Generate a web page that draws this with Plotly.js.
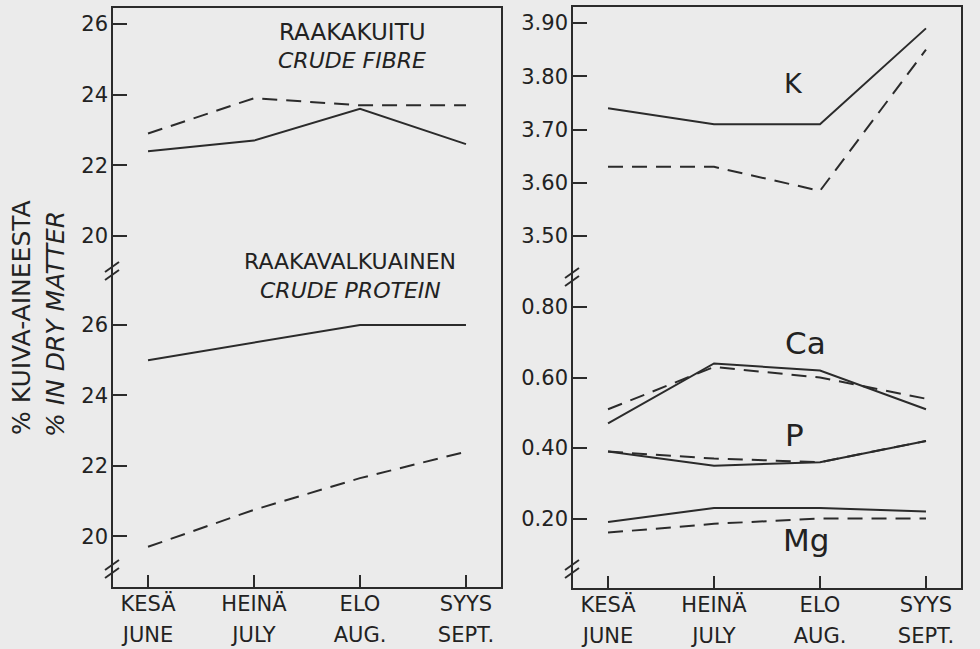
<!DOCTYPE html>
<html>
<head>
<meta charset="utf-8">
<script src="https://cdn.plot.ly/plotly-3.0.1.min.js"></script>
<style>html,body{margin:0;padding:0;background:#ebebeb;}#chart{width:980px;height:649px;}</style>
</head>
<body>
<div id="chart"></div>
<script>
// ---- data ----
const monthsFi = ["KESÄ", "HEINÄ", "ELO", "SYYS"];
const monthsEn = ["JUNE", "JULY", "AUG.", "SEPT."];
const monthIdx = [0, 1, 2, 3];

const fibreSolid = [22.4, 22.7, 23.6, 22.6];
const fibreDashed = [22.9, 23.9, 23.7, 23.7];
const proteinSolid = [25.0, 25.5, 26.0, 26.0];
const proteinDashed = [19.7, 20.75, 21.65, 22.4];

const kSolid = [3.74, 3.71, 3.71, 3.89];
const kDashed = [3.63, 3.63, 3.585, 3.85];
const caSolid = [0.47, 0.64, 0.62, 0.51];
const caDashed = [0.51, 0.63, 0.60, 0.54];
const pSolid = [0.39, 0.35, 0.36, 0.42];
const pDashed = [0.39, 0.37, 0.36, 0.42];
const mgSolid = [0.19, 0.23, 0.23, 0.22];
const mgDashed = [0.16, 0.185, 0.20, 0.20];

const leftTicks = [20, 22, 24, 26];
const kTicks = [3.5, 3.6, 3.7, 3.8, 3.9];
const minTicks = [0.2, 0.4, 0.6, 0.8];

// ---- layout helpers ----
const W = 980, H = 649;
const px = v => v / W;
const py = v => 1 - v / H;
const INK = '#2b2b2b';
const FONT = '"DejaVu Sans", "Liberation Sans", sans-serif';

function tr(y, xa, ya, dashed) {
  return {x: monthIdx, y: y, xaxis: xa, yaxis: ya, type: 'scatter', mode: 'lines',
    line: {color: INK, width: 2, dash: dashed ? '15px,9px' : 'solid'}, hoverinfo: 'skip', showlegend: false};
}
function ghost(xa, ya, yv) {
  return {x: monthIdx, y: monthIdx.map(() => yv), xaxis: xa, yaxis: ya, type: 'scatter', mode: 'lines',
    line: {color: 'rgba(0,0,0,0)', width: 0}, hoverinfo: 'skip', showlegend: false};
}

const data = [
  tr(fibreSolid, 'x', 'y2', false), tr(fibreDashed, 'x', 'y2', true),
  tr(proteinSolid, 'x', 'y', false), tr(proteinDashed, 'x', 'y', true),
  tr(kSolid, 'x2', 'y4', false), tr(kDashed, 'x2', 'y4', true),
  tr(caSolid, 'x2', 'y3', false), tr(caDashed, 'x2', 'y3', true),
  tr(pSolid, 'x2', 'y3', false), tr(pDashed, 'x2', 'y3', true),
  tr(mgSolid, 'x2', 'y3', false), tr(mgDashed, 'x2', 'y3', true),
  ghost('x3', 'y', 22), ghost('x4', 'y3', 0.4)
];

const xRange = [-0.34, 3.34];
const tickFont = {family: FONT, size: 21, color: '#222'};

function xAxis(dom, anchor, labels, standoff, ticks) {
  return {domain: dom, anchor: anchor, range: xRange, tickvals: monthIdx, ticktext: labels,
    ticks: ticks ? 'inside' : '', ticklen: 13, tickwidth: 2, tickcolor: INK,
    showgrid: false, zeroline: false, showline: false, tickfont: tickFont,
    ticklabelstandoff: standoff, fixedrange: true};
}
function yAxis(dom, anchor, range, vals, fmt) {
  return {domain: dom, anchor: anchor, range: range, tickvals: vals,
    ticktext: vals.map(v => v.toFixed(fmt)),
    ticks: 'inside', ticklen: 15, tickwidth: 2, tickcolor: INK,
    showgrid: false, zeroline: false, showline: false, tickfont: tickFont,
    ticklabelstandoff: 3, fixedrange: true};
}

const L = [px(112), px(502)], R = [px(572), px(962)];

const layout = {
  width: W, height: H, margin: {l: 0, r: 0, t: 0, b: 0},
  paper_bgcolor: '#ebebeb', plot_bgcolor: 'rgba(0,0,0,0)',
  font: {family: FONT, color: '#222'},
  xaxis: xAxis(L, 'y', monthsFi, 1, true),
  xaxis3: Object.assign(xAxis(L, 'y', monthsEn, 32, false), {overlaying: 'x'}),
  xaxis2: xAxis(R, 'y3', monthsFi, 1, true),
  xaxis4: Object.assign(xAxis(R, 'y3', monthsEn, 32, false), {overlaying: 'x2'}),
  yaxis: yAxis([py(588), py(270)], 'x', [18.53, 27.56], leftTicks, 0),
  yaxis2: yAxis([py(270), py(7)], 'x', [19.04, 26.48], leftTicks, 0),
  yaxis3: yAxis([py(589), py(275)], 'x2', [0, 0.891], minTicks, 2),
  yaxis4: yAxis([py(275), py(6)], 'x2', [3.427, 3.932], kTicks, 2),
  shapes: [],
  annotations: []
};

// frames
function rect(x0, y0, x1, y1) {
  layout.shapes.push({type: 'rect', xref: 'paper', yref: 'paper', x0: px(x0), x1: px(x1), y0: py(y0), y1: py(y1),
    line: {color: INK, width: 2}, fillcolor: 'rgba(0,0,0,0)', layer: 'above'});
}
rect(112, 7, 502, 588);
rect(572, 6, 962, 589);
// axis break marks
function brk(x, y) {
  [-4, 4].forEach(d => {
    layout.shapes.push({type: 'line', xref: 'paper', yref: 'paper',
      x0: px(x - 7), y0: py(y + d + 5), x1: px(x + 7), y1: py(y + d - 5),
      line: {color: INK, width: 2}, layer: 'above'});
  });
}
brk(112, 271); brk(112, 569);
brk(572, 277); brk(572, 569);

function ann(text, x, y, size, italic) {
  layout.annotations.push({text: italic ? '<i>' + text + '</i>' : text, xref: 'paper', yref: 'paper',
    x: px(x), y: py(y), xanchor: 'center', yanchor: 'middle', showarrow: false,
    font: {family: FONT, size: size, color: '#222'}});
}
ann('RAAKAKUITU', 352, 32, 23, false);
ann('CRUDE FIBRE', 352, 61, 22, true);
ann('RAAKAVALKUAINEN', 350, 262, 22, false);
ann('CRUDE PROTEIN', 350, 290, 22, true);
ann('K', 793, 83, 27, false);
ann('Ca', 805, 343, 31, false);
ann('P', 794, 435, 31, false);
ann('Mg', 806, 540, 31, false);

layout.annotations.push({text: '% KUIVA-AINEESTA', xref: 'paper', yref: 'paper', x: px(21), y: py(318),
  xanchor: 'center', yanchor: 'middle', textangle: -90, showarrow: false,
  font: {family: FONT, size: 25, color: '#222'}});
layout.annotations.push({text: '<i>% IN DRY MATTER</i>', xref: 'paper', yref: 'paper', x: px(55), y: py(324),
  xanchor: 'center', yanchor: 'middle', textangle: -90, showarrow: false,
  font: {family: FONT, size: 25, color: '#222'}});

Plotly.newPlot('chart', data, layout, {displayModeBar: false, staticPlot: true});
</script>
</body>
</html>
